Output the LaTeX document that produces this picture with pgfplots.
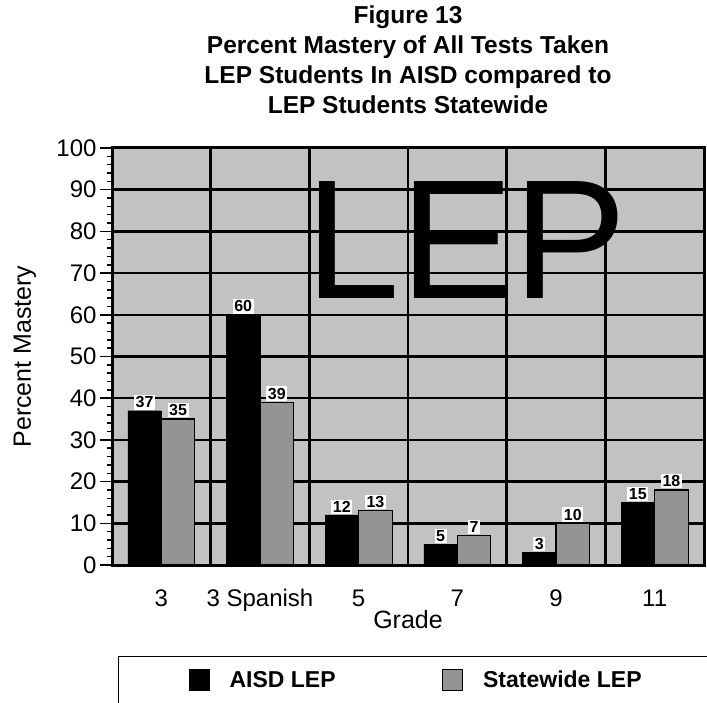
\documentclass[border=0pt]{standalone}
\usepackage{pgfplots}
\pgfplotsset{compat=1.18}
\usepackage{fontspec}
\setmainfont{Liberation Sans}
\definecolor{bggray}{gray}{0.76}
\definecolor{swgray}{gray}{0.58}
\begin{document}
\begin{tikzpicture}[x=1pt,y=1pt]
\path[use as bounding box, clip] (0,0) rectangle (707,702);
\begin{axis}[
  at={(112pt,137pt)}, anchor=south west,
  scale only axis, width=592pt, height=417pt,
  xmin=0, xmax=6, ymin=0, ymax=100,
  axis background/.style={fill=bggray},
  ybar, bar width=0.34,
  xtick={0.5,1.5,2.5,3.5,4.5,5.5},
  xticklabels={3, 3 Spanish, 5, 7, 9, 11},
  major x tick style={draw=none},
  extra x ticks={0,1,2,3,4,5,6},
  extra x tick labels={},
  extra x tick style={grid=major, major tick length=20pt},
  ytick={0,10,...,100},
  minor y tick num=4,
  ymajorgrids,
  grid style={black, line width=2.5pt},
  tick align=outside, xtick pos=bottom, ytick pos=left,
  major tick length=12pt, minor tick length=5pt,
  tick style={black, line width=1.5pt},
  axis line style={black, line width=3pt},
  /pgf/number format/assume math mode=true,
  ticklabel style={font=\fontsize{24}{24}\selectfont},
  xticklabel style={yshift=-9pt},
  title={Figure 13\\Percent Mastery of All Tests Taken\\LEP Students In AISD compared to\\LEP Students Statewide},
  title style={font=\bfseries\fontsize{24.5}{30}\selectfont, align=center, at={(axis description cs:0.5,1)}, anchor=south, yshift=25pt},
  xlabel={Grade},
  ylabel={Percent Mastery},
  every axis x label/.style={at={(axis description cs:0.5,-0.132)}, anchor=center, font=\fontsize{25}{25}\selectfont},
  every axis y label/.style={at={(axis description cs:-0.147,0.5)}, rotate=90, anchor=center, font=\fontsize{25}{25}\selectfont},
  nodes near coords,
  nodes near coords style={font=\bfseries\fontsize{16}{16}\selectfont, fill=white, inner sep=1.5pt, anchor=south, yshift=1pt},
  legend columns=2,
  legend cell align=left,
  legend style={at={(axis description cs:0.0101,-0.218)}, anchor=north west, draw=black, line width=1.2pt, fill=white,
    font=\bfseries\fontsize{23}{23}\selectfont, inner xsep=70pt, inner ysep=12pt,
    /tikz/every odd column/.append style={column sep=18pt},
    /tikz/every even column/.append style={column sep=104pt}},
]
\addplot[fill=black, draw=black, bar shift=-0.17,
  legend image code/.code={\draw[fill=black, line width=1pt] (0pt,-10pt) rectangle (20pt,11pt);}]
  coordinates {(0.5,37) (1.5,60) (2.5,12) (3.5,5) (4.5,3) (5.5,15)};
\addlegendentry{AISD LEP}
\addplot[fill=swgray, draw=black, line width=1.2pt, bar shift=0.17,
  legend image code/.code={\draw[fill=swgray, draw=black, line width=1.5pt] (0pt,-10pt) rectangle (20pt,11pt);}]
  coordinates {(0.5,35) (1.5,39) (2.5,13) (3.5,7) (4.5,10) (5.5,18)};
\addlegendentry{Statewide LEP\hspace{40pt}}
\node[font=\fontsize{170}{170}\selectfont, inner sep=0pt] at (axis cs:3.59,78.0) {LEP};
\end{axis}
\end{tikzpicture}
\end{document}
